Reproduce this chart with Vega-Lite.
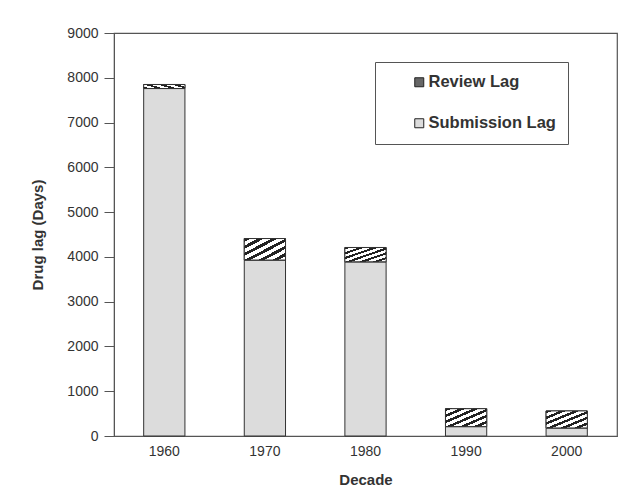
{
  "$schema": "https://vega.github.io/schema/vega-lite/v6.json",
  "autosize": "none",
  "width": 503,
  "height": 403,
  "padding": {"left": 114, "top": 33, "right": 19, "bottom": 56},
  "background": "white",
  "config": {
    "font": "Liberation Sans",
    "view": {"stroke": "#555555", "strokeWidth": 1.2},
    "axis": {"labelFont": "Liberation Sans", "titleFont": "Liberation Sans", "labelColor": "#333333", "titleColor": "#333333", "domainColor": "#555555", "tickColor": "#555555", "grid": false}
  },
  "data": {
    "values": [
      {"decade": "1960", "lag": "Submission Lag", "days": 7760},
      {"decade": "1960", "lag": "Review Lag", "days": 90},
      {"decade": "1970", "lag": "Submission Lag", "days": 3930},
      {"decade": "1970", "lag": "Review Lag", "days": 480},
      {"decade": "1980", "lag": "Submission Lag", "days": 3890},
      {"decade": "1980", "lag": "Review Lag", "days": 320},
      {"decade": "1990", "lag": "Submission Lag", "days": 210},
      {"decade": "1990", "lag": "Review Lag", "days": 400},
      {"decade": "2000", "lag": "Submission Lag", "days": 180},
      {"decade": "2000", "lag": "Review Lag", "days": 380}
    ]
  },
  "transform": [
    {"stack": "days", "groupby": ["decade"], "sort": [{"field": "lag", "order": "descending"}], "as": ["y0", "y1"]}
  ],
  "encoding": {
    "x": {
      "field": "decade", "type": "nominal", "sort": null,
      "scale": {"paddingInner": 0.59, "paddingOuter": 0.295},
      "axis": {"title": "Decade", "labelAngle": 0, "ticks": false, "tickSize": 0, "labelPadding": 8, "labelFontSize": 14, "titleFontSize": 15, "titleFontWeight": "bold", "titlePadding": 14}
    },
    "y": {
      "field": "y0", "type": "quantitative",
      "scale": {"domain": [0, 9000], "nice": false},
      "axis": {"title": "Drug lag (Days)", "format": "d", "values": [0, 1000, 2000, 3000, 4000, 5000, 6000, 7000, 8000, 9000], "tickSize": 10, "labelPadding": 6, "labelFontSize": 14, "titleFontSize": 15, "titleFontWeight": "bold", "titlePadding": 21}
    },
    "y2": {"field": "y1"}
  },
  "layer": [
    {
      "mark": {"type": "bar", "stroke": "#333333", "strokeWidth": 1},
      "encoding": {
        "fill": {
          "field": "lag", "type": "nominal",
          "scale": {"domain": ["Review Lag", "Submission Lag"], "range": ["#666666", "#dcdcdc"]},
          "legend": {
            "title": null,
            "orient": "none",
            "legendX": 261,
            "legendY": 29,
            "padding": 12,
            "strokeColor": "#555555",
            "fillColor": "white",
            "symbolType": "square",
            "symbolSize": 81,
            "symbolStrokeColor": "#222222",
            "symbolStrokeWidth": 1,
            "symbolOffset": 24,
            "labelOffset": 1,
            "labelFont": "Liberation Sans",
            "labelFontSize": 16.5,
            "labelFontWeight": "bold",
            "labelColor": "#333333",
            "labelLimit": 300,
            "rowPadding": 24,
            "encode": {
              "symbols": {
                "update": {
                  "stroke": {"value": "#222222"},
                  "strokeWidth": {"value": 1}
                }
              }
            }
          }
        }
      }
    },
    {
      "transform": [{"filter": "datum.lag === 'Review Lag'"}],
      "mark": {
        "type": "bar", "stroke": "#333333", "strokeWidth": 1,
        "fill": {"gradient": "linear", "x1": 0, "y1": 0, "x2": 1, "y2": 1, "stops": [
          {"offset": 0, "color": "#222222"}, {"offset": 0.075, "color": "#222222"}, {"offset": 0.075, "color": "#ffffff"}, {"offset": 0.1667, "color": "#ffffff"},
          {"offset": 0.1667, "color": "#222222"}, {"offset": 0.2417, "color": "#222222"}, {"offset": 0.2417, "color": "#ffffff"}, {"offset": 0.3333, "color": "#ffffff"},
          {"offset": 0.3333, "color": "#222222"}, {"offset": 0.4083, "color": "#222222"}, {"offset": 0.4083, "color": "#ffffff"}, {"offset": 0.5, "color": "#ffffff"},
          {"offset": 0.5, "color": "#222222"}, {"offset": 0.575, "color": "#222222"}, {"offset": 0.575, "color": "#ffffff"}, {"offset": 0.6667, "color": "#ffffff"},
          {"offset": 0.6667, "color": "#222222"}, {"offset": 0.7417, "color": "#222222"}, {"offset": 0.7417, "color": "#ffffff"}, {"offset": 0.8333, "color": "#ffffff"},
          {"offset": 0.8333, "color": "#222222"}, {"offset": 0.9083, "color": "#222222"}, {"offset": 0.9083, "color": "#ffffff"}, {"offset": 1, "color": "#ffffff"}
        ]}
      }
    }
  ]
}
